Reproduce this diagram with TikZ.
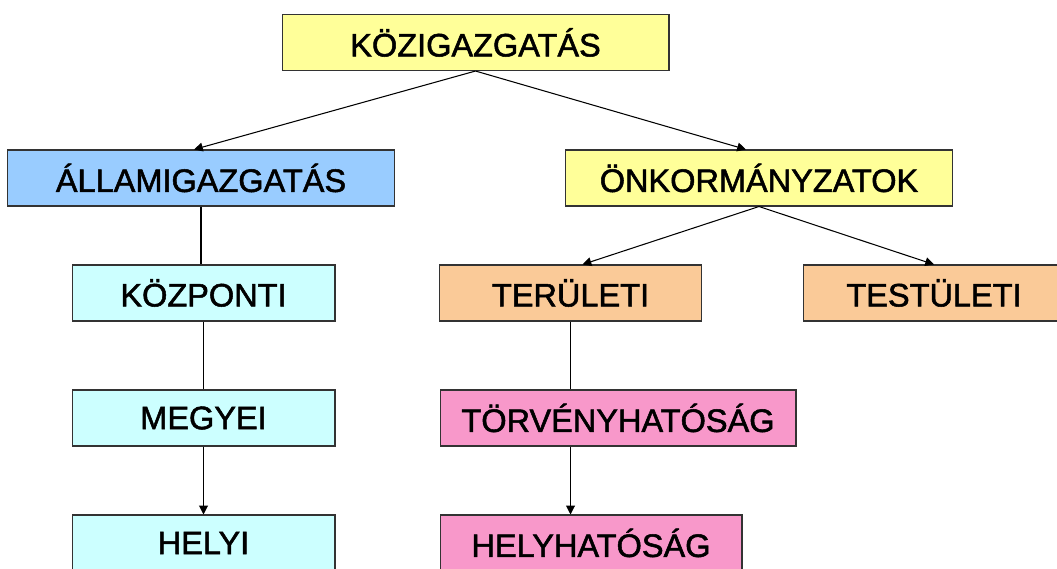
\documentclass[tikz,border=0pt]{standalone}
\usepackage{fontspec}
\setmainfont{Liberation Sans}
\newfontfamily\vastag[FakeBold=1.6]{Liberation Sans}
\usetikzlibrary{arrows.meta,calc}

\definecolor{sarga}{HTML}{FFFF99}
\definecolor{kek}{HTML}{99CCFF}
\definecolor{vkek}{HTML}{CCFFFF}
\definecolor{narancs}{HTML}{FACA98}
\definecolor{rozsa}{HTML}{F898CA}

\begin{document}
\begin{tikzpicture}[x=0.02cm,y=-0.02cm,line width=.6pt,
    doboz/.style={draw=black!80,shape=rectangle,minimum height=1.12cm,inner sep=0pt,
      font=\vastag\fontsize{18.5}{20}\selectfont},
    nyil/.style={-{Triangle[length=5pt,width=5pt]}}]

      \useasboundingbox (0,0) rectangle (1057,568);
      \clip (0,0) rectangle (1057,568);

      \path (475.5,42.5) node[doboz,fill=sarga,minimum width=7.74cm]   (koz)    {KÖZIGAZGATÁS};
      \path (201,178)    node[doboz,fill=kek,minimum width=7.76cm]     (allam)  {ÁLLAMIGAZGATÁS};
      \path (759,178)    node[doboz,fill=sarga,minimum width=7.74cm]   (onk)    {ÖNKORMÁNYZATOK};
      \path (203.5,293)  node[doboz,fill=vkek,minimum width=5.26cm]    (kozp)   {KÖZPONTI};
      \path (570.5,293)  node[doboz,fill=narancs,minimum width=5.24cm] (terul)  {TERÜLETI};
      \path (934,293)    node[doboz,fill=narancs,minimum width=5.24cm] (test)   {TESTÜLETI};
      \path (203.5,418)  node[doboz,fill=vkek,minimum width=5.26cm]    (megyei) {MEGYEI};
      \path (618,418)    node[doboz,fill=rozsa,minimum width=7.12cm]   (torv)   {TÖRVÉNYHATÓSÁG};
      \path (203.5,543)  node[doboz,fill=vkek,minimum width=5.26cm]    (helyi)  {HELYI};
      \path (591,543)    node[doboz,fill=rozsa,minimum width=6.04cm]   (helyh)  {HELYHATÓSÁG};

      \draw[nyil] (koz.south) -- ($(allam.north)+(-7,0)$);
      \draw[nyil] (koz.south) -- ($(onk.north)+(-13,0)$);
      \draw[nyil] (onk.south) -- ($(terul.north)+(12,0)$);
      \draw[nyil] (onk.south) -- (test.north);

      \draw (allam.south)  -- (allam.south |- kozp.north);
      \draw (kozp.south)   -- (megyei.north);
      \draw[nyil] (megyei.south) -- (helyi.north);

      \draw (terul.south)  -- (terul.south |- torv.north);
      \draw[nyil] (torv.south -| terul.south) -- (helyh.north -| terul.south);

    \end{tikzpicture}
\end{document}
